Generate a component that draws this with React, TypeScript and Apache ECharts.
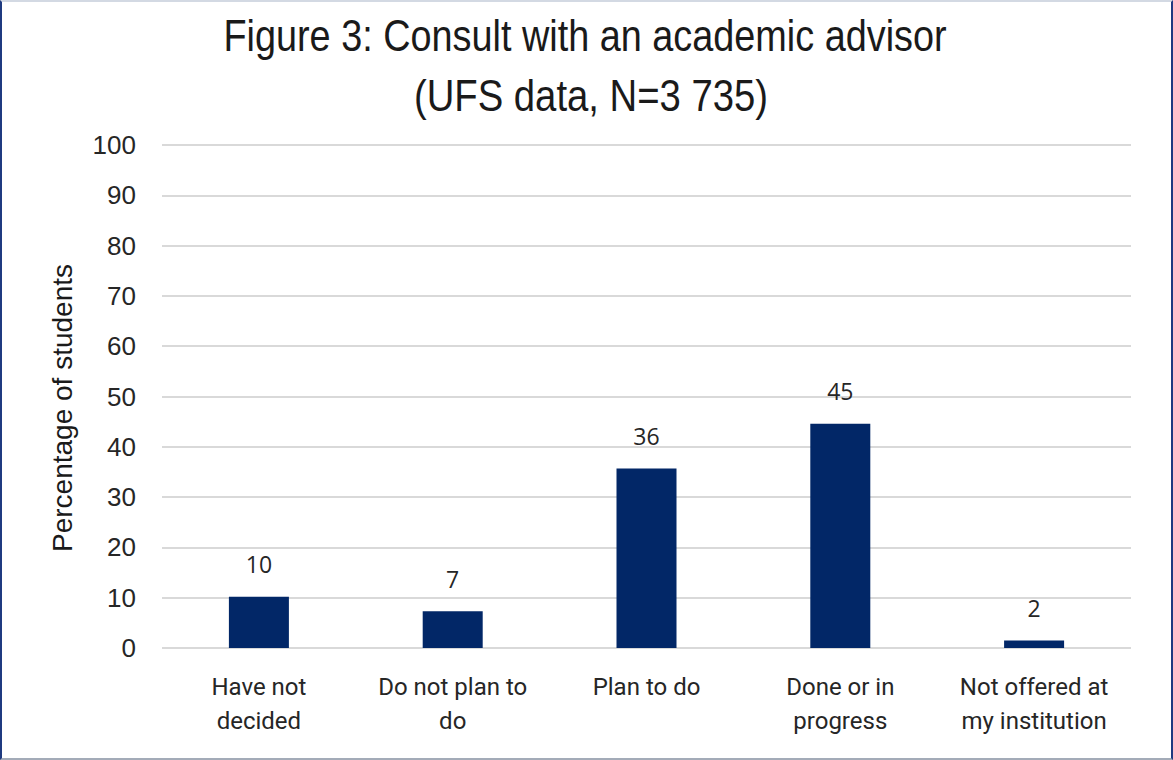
import React, { useEffect, useRef } from "react";
import * as echarts from "echarts";

const titleLines = ["Figure 3: Consult with an academic advisor", "(UFS data, N=3 735)"];
const yAxisName = "Percentage of students";
const categories = ["Have not\ndecided", "Do not plan to\ndo", "Plan to do", "Done or in\nprogress", "Not offered at\nmy institution"];
const values = [10.2, 7.3, 35.7, 44.6, 1.5];
const yTicks = { min: 0, max: 100, interval: 10 };

export default function App() {
  const ref = useRef<HTMLDivElement>(null);
  useEffect(() => {
    document.body.style.margin = "0";
    const chart = echarts.init(ref.current!, null, { renderer: "svg" });
    chart.setOption({
      animation: false,
      backgroundColor: "#ffffff",
      graphic: [
        {
          type: "text",
          x: 583,
          y: 34,
          scaleX: 0.86,
          style: {
            text: titleLines[0],
            fontFamily: "Liberation Sans",
            fontSize: 44,
            fill: "#1a1a1a",
            align: "center",
            verticalAlign: "middle",
          },
        },
        {
          type: "text",
          x: 589,
          y: 94,
          scaleX: 0.87,
          style: {
            text: titleLines[1],
            fontFamily: "Liberation Sans",
            fontSize: 44,
            fill: "#1a1a1a",
            align: "center",
            verticalAlign: "middle",
          },
        },
        {
          type: "text",
          x: 60,
          y: 406,
          rotation: Math.PI / 2,
          style: {
            text: yAxisName,
            fontFamily: "Liberation Sans",
            fontSize: 28,
            fill: "#1a1a1a",
            align: "center",
            verticalAlign: "middle",
          },
        },
      ],
      grid: { left: 160, right: 40, top: 143, bottom: 110 },
      xAxis: {
        type: "category",
        data: categories,
        axisLine: { show: false },
        axisTick: { show: false },
        axisLabel: {
          fontFamily: "Roboto",
          fontSize: 24,
          color: "#262626",
          lineHeight: 34,
          margin: 22,
        },
      },
      yAxis: {
        type: "value",
        min: yTicks.min,
        max: yTicks.max,
        interval: yTicks.interval,
        axisLabel: {
          fontFamily: "Liberation Sans",
          fontSize: 26,
          color: "#262626",
          margin: 26,
        },
        splitLine: { lineStyle: { color: "#d9d9d9", width: 2 } },
      },
      series: [
        {
          type: "bar",
          data: values,
          barWidth: 60,
          itemStyle: { color: "#022767" },
          label: {
            show: true,
            position: "top",
            distance: 21,
            fontFamily: "Open Sans",
            fontSize: 23,
            color: "#262626",
            formatter: (p: any) => String(Math.round(p.value)),
          },
        },
      ],
    });
    return () => chart.dispose();
  }, []);
  return (
    <div
      style={{
        position: "fixed",
        left: 0,
        top: 0,
        width: 1173,
        height: 760,
        boxSizing: "border-box",
        borderLeft: "2px solid #1f3a80",
        borderRight: "2px solid #1f3a80",
        borderTop: "2px solid #d3d9e3",
        borderBottom: "2px solid #a3abb8",
      }}
    >
      <div ref={ref} style={{ width: 1169, height: 756 }} />
    </div>
  );
}
